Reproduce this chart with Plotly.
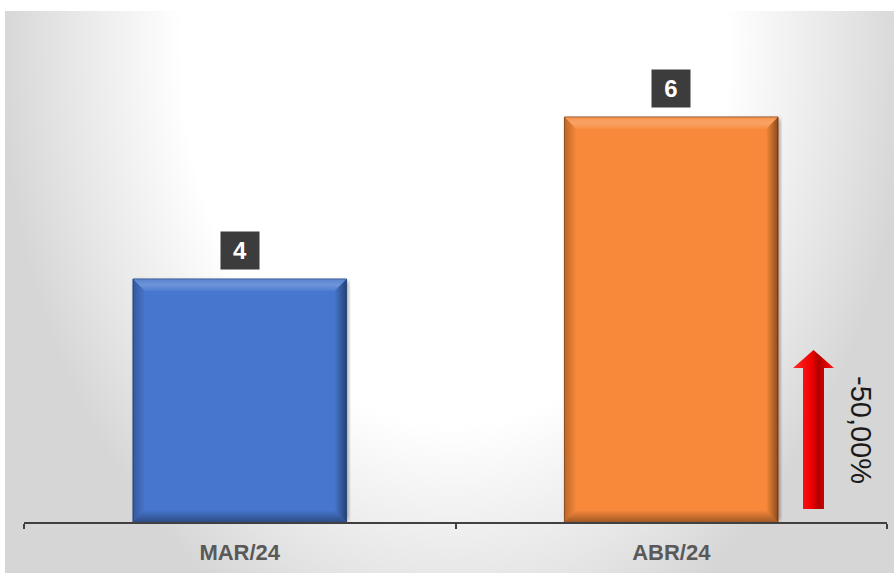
import base64
import plotly.graph_objects as go

# ---- data ----
categories = ["MAR/24", "ABR/24"]
values = [4, 6]
bar_colors = ["#4676CE", "#F8893A"]
bar_edges = ["#2F528F", "#9A4E18"]
variation_text = "-50,00%"
y_range = [1, 7]

# figure placed at page offset (5, 11)
OX, OY = 5, 11
W, H = 894 - OX, 573 - OY
ML, MR, MT, MB = 24 - OX, 7, 36 - OY, 51
PW, PH = W - ML - MR, H - MT - MB
BARGAP = 0.505


def px_x(px):
    return (px - OX - ML) / PW


def px_y(py):
    return (H - MB - (py - OY)) / PH


def svg_uri(svg):
    return "data:image/svg+xml;base64," + base64.b64encode(svg.encode()).decode()


bg_svg = (
    f'<svg xmlns="http://www.w3.org/2000/svg" width="{W}" height="{H}">'
    '<defs><radialGradient id="g" gradientUnits="userSpaceOnUse" cx="0" cy="0" r="1" '
    f'gradientTransform="translate({W/2 + 5} 30) scale(455 640)">'
    '<stop offset="0" stop-color="#ffffff"/>'
    '<stop offset="0.6" stop-color="#ffffff"/>'
    '<stop offset="0.85" stop-color="#e6e6e6"/>'
    '<stop offset="1" stop-color="#d6d6d6"/>'
    '</radialGradient></defs>'
    f'<rect width="{W}" height="{H}" fill="url(#g)"/></svg>'
)

arrow_svg = (
    '<svg xmlns="http://www.w3.org/2000/svg" width="41" height="159" viewBox="0 0 41 159">'
    '<defs><linearGradient id="a" x1="0" y1="0" x2="1" y2="0">'
    '<stop offset="0" stop-color="#ff2a2a"/>'
    '<stop offset="0.45" stop-color="#f00000"/>'
    '<stop offset="0.62" stop-color="#b00000"/>'
    '<stop offset="0.8" stop-color="#d80000"/>'
    '<stop offset="1" stop-color="#ff1a1a"/>'
    '</linearGradient></defs>'
    '<path d="M20.5 0 L41 18 L31 18 L31 159 L10 159 L10 18 L0 18 Z" fill="url(#a)"/>'
    '</svg>'
)


def bevel_svg(w, h, b=12):
    return (
        f'<svg xmlns="http://www.w3.org/2000/svg" width="{w:.1f}" height="{h:.1f}" '
        f'viewBox="0 0 {w:.1f} {h:.1f}" preserveAspectRatio="none"><defs>'
        '<linearGradient id="t" x1="0" y1="0" x2="0" y2="1">'
        '<stop offset="0" stop-color="#fff" stop-opacity="0.10"/>'
        '<stop offset="0.5" stop-color="#fff" stop-opacity="0.22"/>'
        '<stop offset="1" stop-color="#fff" stop-opacity="0.05"/></linearGradient>'
        '<linearGradient id="r" x1="0" y1="0" x2="1" y2="0">'
        '<stop offset="0" stop-color="#000" stop-opacity="0"/>'
        '<stop offset="1" stop-color="#000" stop-opacity="0.45"/></linearGradient>'
        '<linearGradient id="bt" x1="0" y1="0" x2="0" y2="1">'
        '<stop offset="0" stop-color="#000" stop-opacity="0"/>'
        '<stop offset="1" stop-color="#000" stop-opacity="0.35"/></linearGradient>'
        '<linearGradient id="l" x1="0" y1="0" x2="1" y2="0">'
        '<stop offset="0" stop-color="#000" stop-opacity="0.25"/>'
        '<stop offset="1" stop-color="#000" stop-opacity="0"/></linearGradient>'
        '</defs>'
        f'<polygon points="0,0 {w},0 {w-b},{b} {b},{b}" fill="url(#t)"/>'
        f'<polygon points="{w},0 {w},{h} {w-b},{h-b} {w-b},{b}" fill="url(#r)"/>'
        f'<polygon points="0,{h} {w},{h} {w-b},{h-b} {b},{h-b}" fill="url(#bt)"/>'
        f'<polygon points="0,0 {b},{b} {b},{h-b} 0,{h}" fill="url(#l)"/>'
        '</svg>'
    )


def shadow_svg(w, h, d=4):
    return (
        f'<svg xmlns="http://www.w3.org/2000/svg" width="{w+2*d:.1f}" height="{h+2*d:.1f}">'
        '<defs><filter id="f" x="-0.2" y="-0.2" width="1.4" height="1.4">'
        '<feGaussianBlur stdDeviation="2"/></filter></defs>'
        f'<rect x="{d+2}" y="{d+2}" width="{w:.1f}" height="{h-4:.1f}" fill="#000" '
        'fill-opacity="0.35" filter="url(#f)"/></svg>'
    )


fig = go.Figure()
fig.add_trace(go.Bar(
    x=categories,
    y=values,
    marker=dict(color=bar_colors, line=dict(color=bar_edges, width=1)),
    hoverinfo="skip",
))

bar_w = 1 - BARGAP
images = [
    dict(source=svg_uri(bg_svg), xref="paper", yref="paper",
         x=-ML / PW, y=1 + MT / PH, sizex=W / PW, sizey=H / PH,
         sizing="stretch", layer="below", xanchor="left", yanchor="top"),
    dict(source=svg_uri(arrow_svg), xref="paper", yref="paper",
         x=px_x(793), y=px_y(350), sizex=41 / PW, sizey=159 / PH,
         sizing="stretch", layer="above", xanchor="left", yanchor="top"),
]
units_x = PW / len(categories)
units_y = PH / (y_range[1] - y_range[0])
for i, v in enumerate(values):
    w_px = bar_w * units_x
    h_px = (v - y_range[0]) * units_y
    d = 4
    images.append(dict(
        source=svg_uri(shadow_svg(w_px, h_px, d)), xref="x", yref="y",
        x=i - bar_w / 2 - d / units_x, y=v + d / units_y,
        sizex=(w_px + 2 * d) / units_x, sizey=(h_px + 2 * d) / units_y,
        sizing="stretch", layer="below", xanchor="left", yanchor="top"))
    images.append(dict(
        source=svg_uri(bevel_svg(w_px, h_px)), xref="x", yref="y",
        x=i - bar_w / 2, y=v, sizex=bar_w, sizey=v - y_range[0],
        sizing="stretch", layer="above", xanchor="left", yanchor="top"))

annotations = []
for c, v in zip(categories, values):
    annotations.append(dict(
        x=c, y=v, xref="x", yref="y", yanchor="bottom", yshift=9,
        text=f"<b>{v}</b>", showarrow=False, width=28,
        font=dict(family="Liberation Sans, Arial", size=24, color="#ffffff"),
        bgcolor="#3c3c3c", borderpad=5,
    ))
annotations.append(dict(
    x=px_x(861), y=px_y(430), xref="paper", yref="paper",
    xanchor="center", yanchor="middle",
    text=variation_text, textangle=90, showarrow=False,
    font=dict(family="Liberation Sans, Arial", size=29, color="#1a1a1a"),
))

fig.update_layout(
    width=W, height=H,
    margin=dict(l=ML, r=MR, t=MT, b=MB),
    paper_bgcolor="#e0e0e0",
    plot_bgcolor="rgba(0,0,0,0)",
    bargap=BARGAP,
    showlegend=False,
    annotations=annotations,
    images=images,
    xaxis=dict(
        showline=True, linecolor="#404040", linewidth=2,
        ticks="outside", tickson="boundaries", ticklen=5,
        tickcolor="#404040", tickwidth=2,
        tickfont=dict(family="Liberation Sans, Arial", size=22, color="#595959", weight="bold"),
        ticklabelstandoff=10,
        showgrid=False, zeroline=False, fixedrange=True,
    ),
    yaxis=dict(range=y_range, visible=False, showgrid=False, zeroline=False, fixedrange=True),
)

fig.write_html(
    "out.html",
    post_script="document.body.style.margin='11px 0 0 5px';document.body.style.background='#ffffff';",
)
